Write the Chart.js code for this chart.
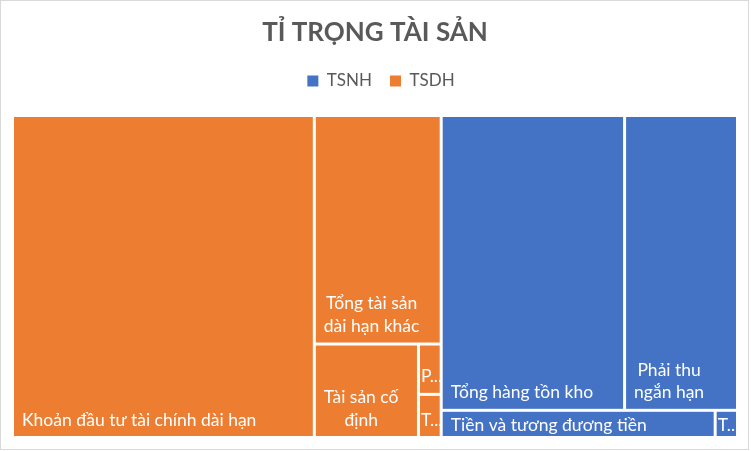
<!DOCTYPE html>
<html lang="vi">
<head>
    <meta charset="UTF-8">
    <title>Tỉ trọng tài sản</title>
    <style>
        body {
            margin: 0;
            background: #ffffff;
        }
        #chartContainer {
            position: absolute;
            left: 0;
            top: 0;
            width: 747px;
            height: 448px;
            border: 1px solid #d9d9d9;
        }
    </style>
    <script src="https://cdn.jsdelivr.net/npm/chart.js"></script>
</head>
<body>
    <div id="chartContainer">
        <canvas id="treemapChart"></canvas>
    </div>

    <script>
        // data (share of total assets, %)
        const groupNames = ['TSNH', 'TSDH'];
        const tsnhLabels = ['Tổng hàng tồn kho', 'Phải thu ngắn hạn', 'Tiền và tương đương tiền', 'Tài sản ngắn hạn khác'];
        const tsnhValues = [23.16, 14.26, 3.19, 0.26];
        const tsdhLabels = ['Khoản đầu tư tài chính dài hạn', 'Tổng tài sản dài hạn khác', 'Tài sản cố định', 'Phải thu dài hạn', 'Tài sản dở dang dài hạn'];
        const tsdhValues = [41.63, 12.42, 4.17, 0.49, 0.42];

        const groupColors = ['#4472C4', '#ED7D31'];
        const labelFont = '17.5px Lato';
        const lineHeight = 22.7;

        function ratio(a, b) {
            return Math.max(a / b, b / a);
        }

        // squarify-like strip layout, items already sorted largest first
        function layout(items, x, y, w, h, out) {
            const total = items.reduce((s, it) => s + it.value, 0);
            const scale = (w * h) / total;
            let i = 0;
            while (i < items.length) {
                const column = w >= h;
                const side = column ? h : w;
                let sum = items[i].value * scale;
                let best = ratio(sum / side, side);
                let j = i + 1;
                while (j < items.length) {
                    const s2 = sum + items[j].value * scale;
                    const r = ratio(s2 / side, side);
                    if (r > best) break;
                    best = r;
                    sum = s2;
                    j++;
                }
                const thick = sum / side;
                let off = 0;
                for (let k = i; k < j; k++) {
                    const len = items[k].value * scale / thick;
                    const rect = column
                        ? { x: x, y: y + off, w: thick, h: len }
                        : { x: x + off, y: y, w: len, h: thick };
                    out.push(Object.assign({}, items[k], rect));
                    off += len;
                }
                if (column) { x += thick; w -= thick; } else { y += thick; h -= thick; }
                i = j;
            }
            return out;
        }

        function buildItems() {
            const groups = [
                { name: groupNames[0], color: groupColors[0], labels: tsnhLabels, values: tsnhValues },
                { name: groupNames[1], color: groupColors[1], labels: tsdhLabels, values: tsdhValues }
            ].map(g => ({
                name: g.name,
                color: g.color,
                value: g.values.reduce((a, b) => a + b, 0),
                children: g.labels.map((l, i) => ({ label: l, value: g.values[i], color: g.color }))
                    .sort((a, b) => b.value - a.value)
            }));
            return groups.sort((a, b) => b.value - a.value);
        }

        function truncate(ctx, word, maxW) {
            let s = word;
            while (s.length > 1 && ctx.measureText(s + '...').width > maxW) {
                s = s.slice(0, -1);
            }
            return s + '...';
        }

        function wrapLabel(ctx, text, maxW) {
            const words = text.split(' ');
            const lines = [];
            let cur = '';
            for (const w of words) {
                const test = cur ? cur + ' ' + w : w;
                if (ctx.measureText(test).width <= maxW) {
                    cur = test;
                } else if (!cur) {
                    // a single word wider than the cell
                    return { lines: [w], cut: true };
                } else {
                    lines.push(cur);
                    cur = w;
                    if (ctx.measureText(cur).width > maxW) return { lines: lines, cut: true };
                }
            }
            if (cur) lines.push(cur);
            return { lines: lines, cut: false };
        }

        const treemapPlugin = {
            id: 'treemap',
            beforeDatasetsDraw(chart) {
                const ctx = chart.ctx;
                const xs = chart.scales.x;
                const ys = chart.scales.y;
                const area = chart.chartArea;
                const W = area.right - area.left;
                const H = area.bottom - area.top;

                // layout in pixel proportions, then mapped through the scales
                const cells = [];
                const groups = layout(buildItems(), 0, 0, W, H, []);
                groups.forEach(g => layout(g.children, g.x, g.y, g.w, g.h, cells));

                ctx.save();
                ctx.font = labelFont;
                cells.forEach(c => {
                    const x0 = xs.getPixelForValue(c.x / W * 100) + 1.5;
                    const x1 = xs.getPixelForValue((c.x + c.w) / W * 100) - 1.5;
                    const y0 = ys.getPixelForValue(c.y / H * 100) + 1.5;
                    const y1 = ys.getPixelForValue((c.y + c.h) / H * 100) - 1.5;
                    ctx.fillStyle = c.color;
                    ctx.fillRect(x0, y0, x1 - x0, y1 - y0);

                    // label, bottom left, wrapped like the office treemap
                    const cw = x1 - x0;
                    const ch = y1 - y0;
                    let padX = 8;
                    const maxLines = Math.max(1, Math.floor((ch - 4) / lineHeight));
                    let res = wrapLabel(ctx, c.label, cw - 2 * padX);
                    let lines = res.lines;
                    if (res.cut || lines.length > maxLines) {
                        lines = lines.slice(0, Math.min(lines.length, maxLines));
                        const last = lines.length - 1;
                        const room = res.cut && lines.length === 1 ? cw + 2 : cw - 2 * padX;
                        lines[last] = truncate(ctx, lines[last], room);
                    }
                    const widths = lines.map(l => ctx.measureText(l).width);
                    const blockW = Math.max.apply(null, widths);
                    if (blockW > cw - 2 * padX) padX = 1;
                    const firstBase = Math.max(y0 + 19.4, y1 - 10.5 - (lines.length - 1) * lineHeight);

                    ctx.save();
                    ctx.beginPath();
                    ctx.rect(x0, y0, cw + 1.5, ch);
                    ctx.clip();
                    ctx.fillStyle = '#ffffff';
                    ctx.textAlign = 'center';
                    ctx.textBaseline = 'alphabetic';
                    lines.forEach((l, k) => {
                        ctx.fillText(l, x0 + padX + blockW / 2, firstBase + k * lineHeight);
                    });
                    ctx.restore();
                });
                ctx.restore();
            }
        };

        // extra space under the legend, and nudge it a little to the right
        const legendGap = {
            id: 'legendGap',
            beforeInit(chart) {
                const fit = chart.legend.fit;
                chart.legend.fit = function () {
                    fit.bind(chart.legend)();
                    this.height += 16;
                };
            },
            afterLayout(chart) {
                chart.legend.left += 6;
                chart.legend.right += 6;
            }
        };

        const ctx = document.getElementById('treemapChart').getContext('2d');
        new Chart(ctx, {
            type: 'scatter',
            data: {
                datasets: groupNames.map((name, i) => ({
                    label: name,
                    data: [],
                    backgroundColor: groupColors[i],
                    borderColor: groupColors[i],
                    borderWidth: 0
                }))
            },
            options: {
                responsive: true,
                maintainAspectRatio: false,
                animation: false,
                layout: {
                    padding: { left: 11.5, right: 10.5, top: 0, bottom: 11.5 }
                },
                scales: {
                    x: { type: 'linear', min: 0, max: 100, display: false },
                    y: { type: 'linear', min: 0, max: 100, reverse: true, display: false }
                },
                plugins: {
                    title: {
                        display: true,
                        text: 'TỈ TRỌNG TÀI SẢN',
                        color: '#595959',
                        font: { family: 'Lato', size: 26, weight: 'bold' },
                        padding: { top: 16, bottom: 6.3 }
                    },
                    legend: {
                        display: true,
                        position: 'top',
                        labels: {
                            color: '#595959',
                            font: { family: 'Lato', size: 17 },
                            boxWidth: 11,
                            boxHeight: 11,
                            padding: 18
                        }
                    },
                    tooltip: { enabled: false }
                }
            },
            plugins: [treemapPlugin, legendGap]
        });
    </script>
</body>
</html>
